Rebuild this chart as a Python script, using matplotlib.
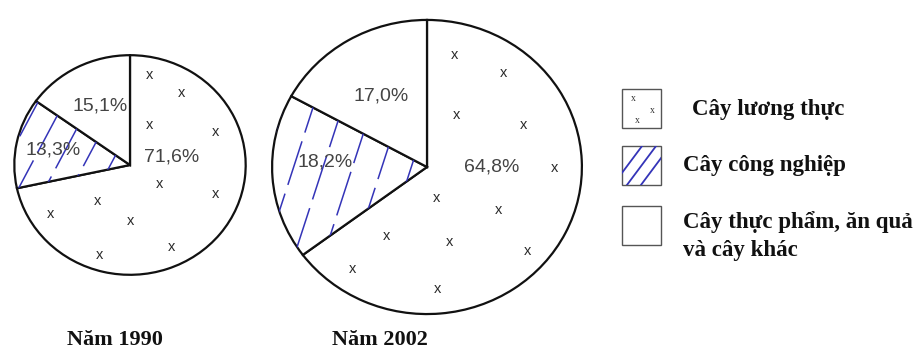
import numpy as np
import matplotlib
matplotlib.use("Agg")
import matplotlib.pyplot as plt
from matplotlib.patches import Rectangle

# Cơ cấu diện tích gieo trồng (%)
categories = ["Cây lương thực", "Cây công nghiệp", "Cây thực phẩm, ăn quả\nvà cây khác"]
share_1990 = [71.6, 13.3, 15.1]
share_2002 = [64.8, 18.2, 17.0]
years = ["Năm 1990", "Năm 2002"]

W, H = 921, 351
fig = plt.figure(figsize=(W / 100, H / 100), dpi=100)
fig.patch.set_facecolor("white")

EDGE = "#111111"
BLUE = "#3434b8"
TXT = "#444444"
SANS = ["Liberation Sans", "DejaVu Sans"]
SERIF = ["Liberation Serif", "DejaVu Serif"]

# overlay axes in pixel coordinates for legend and titles
ov = fig.add_axes([0, 0, 1, 1])
ov.set_xlim(0, W)
ov.set_ylim(H, 0)
ov.axis("off")

# stipple texture for the grain segment (offsets in units of the radius)
stipple_1990 = [(0.169, 0.821), (0.449, 0.652), (0.169, 0.366), (0.737, 0.304),
                (0.254, -0.170), (0.737, -0.268), (-0.280, -0.330), (-0.686, -0.446),
                (0.008, -0.509), (0.356, -0.750), (-0.263, -0.821)]
stipple_2002 = [(0.177, 0.760), (0.494, 0.640), (0.190, 0.353), (0.620, 0.287),
                (0.823, -0.007), (0.063, -0.213), (0.462, -0.293), (-0.259, -0.467),
                (0.146, -0.513), (0.646, -0.573), (-0.481, -0.693), (0.070, -0.827)]

# percentage label anchors (units of the radius)
label_pos_1990 = [(0.356, 0.071), (-0.661, 0.134), (-0.254, 0.536)]
label_pos_2002 = [(0.418, 0.000), (-0.658, 0.033), (-0.297, 0.480)]


def draw_pie(cx, cy, rx, ry, values, stipple, label_pos, hatch_angle, hatch_step):
    ax = fig.add_axes([(cx - rx) / W, (H - cy - ry) / H, 2 * rx / W, 2 * ry / H])
    wedges, _ = ax.pie(values, startangle=90, counterclock=False, radius=1.0,
                       colors=["white"] * 3,
                       wedgeprops=dict(edgecolor=EDGE, linewidth=1.6))
    ax.set_aspect("auto")
    ax.set_xlim(-1.02, 1.02)
    ax.set_ylim(-1.02, 1.02)
    ax.axis("off")

    # hand-drawn style hatching for the industrial crops segment
    t = np.tan(np.radians(hatch_angle))
    x0s = np.arange(-2.0, 2.0, hatch_step / rx)
    for i, x0 in enumerate(x0s):
        ys = np.array([-1.3, 1.3])
        xs = x0 + (ys * ry / t) / rx
        ln, = ax.plot(xs, ys, color=BLUE, lw=1.1,
                      linestyle=(i * 11 % 37, (30, 6)), zorder=3)
        ln.set_clip_path(wedges[1])

    for dx, dy in stipple:
        ax.text(dx, dy, "x", ha="center", va="center", fontsize=10.5,
                color="#2a2a2a", family=SANS, zorder=4)

    for (lx, ly), v in zip(label_pos, values):
        ax.text(lx, ly, f"{v:.1f}%".replace(".", ","), ha="center", va="center",
                fontsize=14, color=TXT, family=SANS, zorder=5)
    return ax


draw_pie(130, 165, 118, 112, share_1990, stipple_1990, label_pos_1990, 62, 27)
draw_pie(427, 167, 158, 150, share_2002, stipple_2002, label_pos_2002, 72, 30)

# titles under each pie
for x, t in zip([115, 380], years):
    ov.text(x, 340, t, ha="center", va="center", fontsize=16, fontweight="bold",
            family=SERIF, color="#111111")

# legend
box_x, box_w = 622, 39
box_tops = [89, 146, 206]
text_x = [692, 683, 683]
text_y = [110, 165, 236]
for i, (top, lab) in enumerate(zip(box_tops, categories)):
    rect = Rectangle((box_x, top), box_w, box_w, facecolor="white",
                     edgecolor="#555555", lw=1.0, zorder=2)
    ov.add_patch(rect)
    if i == 0:
        for (px, py) in [(0.28, 0.24), (0.77, 0.54), (0.40, 0.80)]:
            ov.text(box_x + px * box_w, top + py * box_w, "x", ha="center",
                    va="center", fontsize=7, family=SERIF, color="#333333", zorder=3)
    elif i == 1:
        for off in [-14, 0, 14]:
            ln, = ov.plot([box_x - 10 + off, box_x + box_w + 10 + off],
                          [top + box_w + 20, top - 20],
                          color=BLUE, lw=1.3, zorder=3)
            ln.set_clip_path(rect)
    ov.text(text_x[i], text_y[i], lab,
            ha="left", va="center", fontsize=16.5, fontweight="bold",
            family=SERIF, color="#111111", linespacing=1.45)

fig.savefig("out.png", dpi=100, facecolor="white")
